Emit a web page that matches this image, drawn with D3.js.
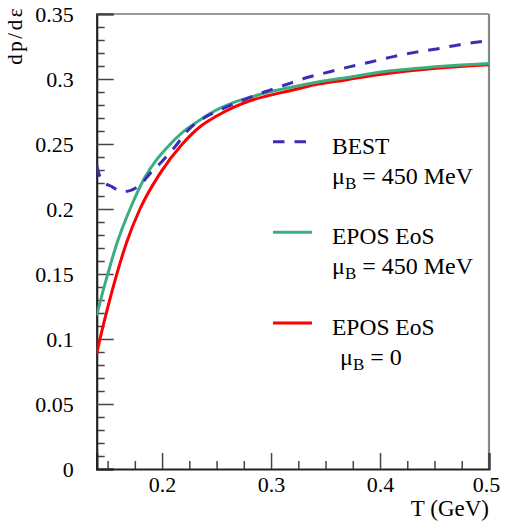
<!DOCTYPE html>
<html>
<head>
<meta charset="utf-8">
<script src="https://cdn.jsdelivr.net/npm/d3@7"></script>
<style>
  html, body { margin: 0; padding: 0; background: #fff; }
  svg text { font-family: "Liberation Serif"; }
</style>
</head>
<body>
<svg id="chart" width="505" height="523"></svg>
<script>
// ---- data ----
const bestT = [0.14, 0.1425, 0.146, 0.1538, 0.163, 0.1706, 0.1813, 0.189, 0.1997, 0.2119, 0.224, 0.2394, 0.2577, 0.276, 0.2944, 0.3128, 0.334, 0.354, 0.3725, 0.3924, 0.4122, 0.432, 0.452, 0.4718, 0.4918, 0.5];
const bestV = [0.2335, 0.226, 0.221, 0.2172, 0.2133, 0.2141, 0.2198, 0.2274, 0.2364, 0.2479, 0.2608, 0.2705, 0.2779, 0.2844, 0.2902, 0.2954, 0.3013, 0.3056, 0.3095, 0.3133, 0.3172, 0.3205, 0.3231, 0.3262, 0.3287, 0.3297];

const eposMuT = [0.14, 0.145, 0.150, 0.1585, 0.1706, 0.1843, 0.195, 0.2042, 0.2195, 0.2348, 0.2501, 0.2654, 0.2807, 0.296, 0.3174, 0.342, 0.37, 0.403, 0.435, 0.464, 0.5];
const eposMuV = [0.118, 0.1345, 0.1495, 0.1735, 0.2, 0.2245, 0.238, 0.247, 0.2595, 0.2685, 0.2762, 0.2818, 0.2859, 0.2895, 0.2935, 0.2975, 0.3012, 0.3056, 0.3082, 0.3102, 0.312];

const epos0T = [0.14, 0.143, 0.1505, 0.1583, 0.1675, 0.1797, 0.1981, 0.2186, 0.2348, 0.2501, 0.2654, 0.2807, 0.296, 0.3174, 0.34, 0.37, 0.40, 0.43, 0.46, 0.5];
const epos0V = [0.089, 0.1, 0.1255, 0.1495, 0.1745, 0.2, 0.2274, 0.25, 0.2633, 0.2715, 0.2782, 0.2833, 0.2869, 0.291, 0.2955, 0.2995, 0.3035, 0.3065, 0.3088, 0.311];

const xMajorTicks = [0.2, 0.3, 0.4, 0.5];
const xTickLabels = ["0.2", "0.3", "0.4", "0.5"];
const xMinorTicks = [0.15, 0.175, 0.225, 0.25, 0.275, 0.325, 0.35, 0.375, 0.425, 0.45, 0.475];
const yMajorTicks = [0, 0.05, 0.1, 0.15, 0.2, 0.25, 0.3, 0.35];
const yTickLabels = ["0", "0.05", "0.1", "0.15", "0.2", "0.25", "0.3", "0.35"];
const yMinorTicks = [0.01,0.02,0.03,0.04,0.06,0.07,0.08,0.09,0.11,0.12,0.13,0.14,0.16,0.17,0.18,0.19,0.21,0.22,0.23,0.24,0.26,0.27,0.28,0.29,0.31,0.32,0.33,0.34];

const legendTitles = ["BEST", "EPOS EoS", "EPOS EoS"];
const legendMu = ["= 450 MeV", "= 450 MeV", "= 0"];
const xTitle = "T (GeV)";
const yTitle = "dp/dε";

// ---- layout ----
const FONT = '"Liberation Serif"';
const colors = ["#3a2db6", "#3aae80", "#ff0000"];
const L = 96.7, R = 489, T = 14, B = 469;

const svg = d3.select("#chart");
const x = d3.scaleLinear().domain([0.14, 0.5]).range([L, R]);
const y = d3.scaleLinear().domain([0, 0.35]).range([B, T]);

svg.append("defs").append("clipPath").attr("id", "clip")
  .append("rect").attr("x", L).attr("y", T).attr("width", R - L).attr("height", B - T);

// frame top/right
svg.append("line").attr("x1", L).attr("x2", R).attr("y1", T).attr("y2", T)
  .attr("stroke", "#777").attr("stroke-width", 1.6);
svg.append("line").attr("x1", R).attr("x2", R).attr("y1", T).attr("y2", B)
  .attr("stroke", "#888").attr("stroke-width", 2.2);

// axes
function styleAxis(g) {
  g.attr("font-family", null).attr("font-size", null);
  g.selectAll(".tick line").attr("stroke", "#444").attr("stroke-width", 1.5);
  g.selectAll("text").attr("fill", "#000").style("font-family", FONT).style("font-size", "22px");
}
const yMinor = svg.append("g").attr("transform", `translate(${L},0)`)
  .call(d3.axisLeft(y).tickValues(yMinorTicks).tickSize(-8).tickFormat(""));
yMinor.select(".domain").remove();
styleAxis(yMinor);
const yMajor = svg.append("g").attr("transform", `translate(${L},0)`)
  .call(d3.axisLeft(y).tickValues(yMajorTicks).tickSize(-17).tickPadding(23)
    .tickFormat((d, i) => yTickLabels[i]));
yMajor.select(".domain").attr("stroke", "#222").attr("stroke-width", 2.2);
styleAxis(yMajor);

const xMinor = svg.append("g").attr("transform", `translate(0,${B})`)
  .call(d3.axisBottom(x).tickValues(xMinorTicks).tickSize(-8).tickFormat(""));
xMinor.select(".domain").remove();
styleAxis(xMinor);
const xMajor = svg.append("g").attr("transform", `translate(0,${B})`)
  .call(d3.axisBottom(x).tickValues(xMajorTicks).tickSize(-16)
    .tickFormat((d, i) => xTickLabels[i]));
xMajor.select(".domain").attr("stroke", "#222").attr("stroke-width", 2.2);
styleAxis(xMajor);
xMajor.selectAll("text").attr("y", 23).attr("dy", "0")
  .attr("dx", (d, i) => i === xMajorTicks.length - 1 ? -3 : 0);

// titles
svg.append("text").attr("x", R).attr("y", 516).attr("text-anchor", "end")
  .style("font-family", FONT).style("font-size", "23px").text(xTitle);
svg.append("text").attr("transform", "translate(22,6) rotate(-90)")
  .attr("text-anchor", "end").style("font-family", FONT).style("font-size", "21px")
  .style("letter-spacing", "2.5px").text(yTitle);

// curves
const line = d3.line().x(d => x(d[0])).y(d => y(d[1])).curve(d3.curveMonotoneX);
const plot = svg.append("g").attr("clip-path", "url(#clip)");
const series = [
  { t: bestT, v: bestV, dash: "11.5,10" },
  { t: eposMuT, v: eposMuV, dash: null },
  { t: epos0T, v: epos0V, dash: null }
];
[2, 1, 0].forEach(i => {
  const s = series[i];
  plot.append("path").datum(s.t.map((t, j) => [t, s.v[j]]))
    .attr("fill", "none").attr("stroke", colors[i]).attr("stroke-width", 3)
    .attr("stroke-dasharray", s.dash).attr("d", line);
});

// legend
const legY = [141.7, 232.3, 323];
const legX2 = [307, 312, 312];
const muX = [332, 332, 340];
legY.forEach((ly, i) => {
  svg.append("line").attr("x1", 273).attr("x2", legX2[i]).attr("y1", ly).attr("y2", ly)
    .attr("stroke", colors[i]).attr("stroke-width", 3)
    .attr("stroke-dasharray", series[i].dash);
  svg.append("text").attr("x", 332).attr("y", ly + 11.8)
    .style("font-family", FONT).style("font-size", "23.5px").text(legendTitles[i]);
  const t = svg.append("text").attr("x", muX[i]).attr("y", ly + 42)
    .style("font-family", FONT).style("font-size", "24px");
  t.append("tspan").text("μ");
  t.append("tspan").attr("dy", 5).style("font-size", "17px").text("B");
  t.append("tspan").attr("dy", -5).text(" " + legendMu[i]);
});
</script>
</body>
</html>
